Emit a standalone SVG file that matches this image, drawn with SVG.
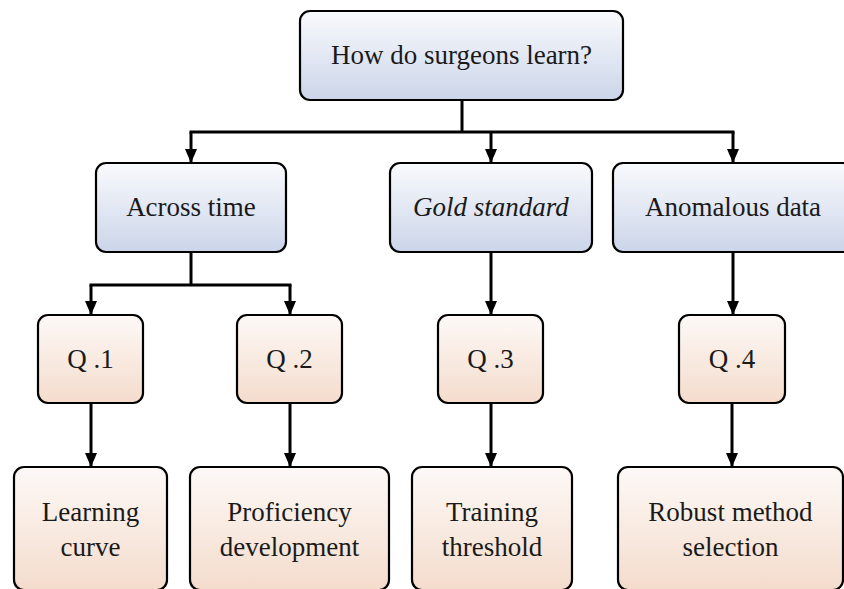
<svg xmlns="http://www.w3.org/2000/svg" width="844" height="589" viewBox="0 0 844 589">
<defs>
<linearGradient id="gb" x1="0" y1="0" x2="0" y2="1">
<stop offset="0" stop-color="#f9fafd"/>
<stop offset="1" stop-color="#cbd5e9"/>
</linearGradient>
<linearGradient id="go" x1="0" y1="0" x2="0" y2="1">
<stop offset="0" stop-color="#fdf9f7"/>
<stop offset="1" stop-color="#f4dccc"/>
</linearGradient>
<marker id="arr" viewBox="0 0 14 12" refX="14" refY="6" markerWidth="14" markerHeight="12" markerUnits="userSpaceOnUse" orient="auto">
<path d="M0,0 L14,6 L0,12 Z" fill="#000"/>
</marker>
</defs>
<style>
.b{fill:url(#gb);stroke:#000;stroke-width:2.2}
.o{fill:url(#go);stroke:#000;stroke-width:2.2}
.t{font-family:'Liberation Serif','DejaVu Serif','Noto Serif',serif;font-size:27px;fill:#1a1a1a;text-anchor:middle}
.c line,.c path{stroke:#000;stroke-width:3;fill:none}
</style>
<g class="c" id="connectors">
<path d="M462,100 V132"/>
<path d="M189.5,132 H734.5"/>
<line x1="191" y1="132" x2="191" y2="163" marker-end="url(#arr)"/>
<line x1="491" y1="132" x2="491" y2="163" marker-end="url(#arr)"/>
<line x1="733" y1="132" x2="733" y2="163" marker-end="url(#arr)"/>
<path d="M191,252 V285"/>
<path d="M89.5,285 H291.5"/>
<line x1="91" y1="285" x2="91" y2="315" marker-end="url(#arr)"/>
<line x1="290" y1="285" x2="290" y2="315" marker-end="url(#arr)"/>
<line x1="491" y1="252" x2="491" y2="315" marker-end="url(#arr)"/>
<line x1="733" y1="252" x2="733" y2="315" marker-end="url(#arr)"/>
<line x1="91" y1="403" x2="91" y2="467" marker-end="url(#arr)"/>
<line x1="290" y1="403" x2="290" y2="467" marker-end="url(#arr)"/>
<line x1="491" y1="403" x2="491" y2="467" marker-end="url(#arr)"/>
<line x1="732" y1="403" x2="732" y2="467" marker-end="url(#arr)"/>
</g>
<g class="t">
<g id="root"><rect class="b" x="300" y="11" width="323" height="89" rx="10"/><text x="461.5" y="64">How do surgeons learn?</text></g>
<g id="across"><rect class="b" x="96" y="163" width="190" height="89" rx="10"/><text x="191" y="216">Across time</text></g>
<g id="gold"><rect class="b" x="390" y="163" width="202" height="89" rx="10"/><text x="491" y="216" font-style="italic">Gold standard</text></g>
<g id="anomalous"><rect class="b" x="613" y="163" width="240" height="89" rx="10"/><text x="733" y="216">Anomalous data</text></g>
<g id="q1"><rect class="o" x="38" y="315" width="105" height="88" rx="10"/><text x="90.5" y="368">Q .1</text></g>
<g id="q2"><rect class="o" x="237" y="315" width="105" height="88" rx="10"/><text x="289.5" y="368">Q .2</text></g>
<g id="q3"><rect class="o" x="438" y="315" width="105" height="88" rx="10"/><text x="490.5" y="368">Q .3</text></g>
<g id="q4"><rect class="o" x="679" y="315" width="106" height="88" rx="10"/><text x="732" y="368">Q .4</text></g>
<g id="learning"><rect class="o" x="14" y="467" width="153" height="123" rx="10"/><text x="90.5" y="521">Learning</text><text x="90.5" y="556">curve</text></g>
<g id="proficiency"><rect class="o" x="190" y="467" width="199" height="123" rx="10"/><text x="289.5" y="521">Proficiency</text><text x="289.5" y="556">development</text></g>
<g id="training"><rect class="o" x="412" y="467" width="160" height="123" rx="10"/><text x="492" y="521">Training</text><text x="492" y="556">threshold</text></g>
<g id="robust"><rect class="o" x="618" y="467" width="225" height="123" rx="10"/><text x="730.5" y="521">Robust method</text><text x="730.5" y="556">selection</text></g>
</g>
</svg>
